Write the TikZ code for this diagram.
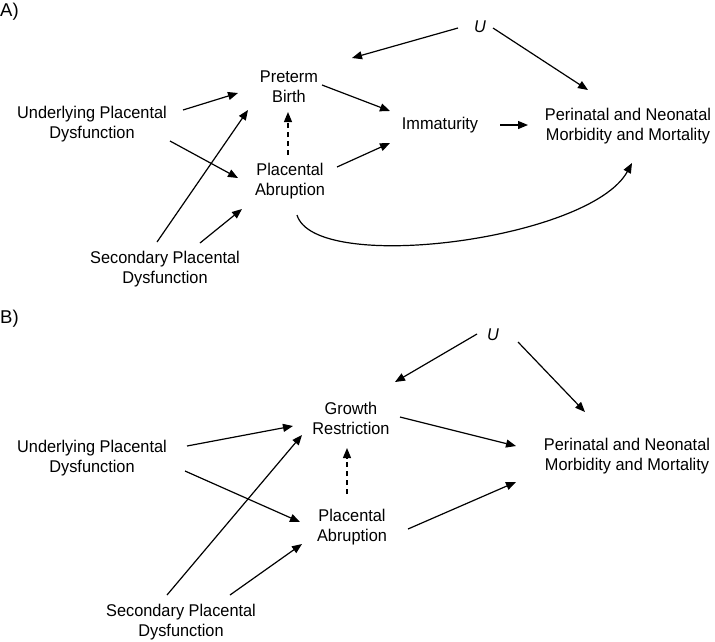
\documentclass[tikz,border=0pt]{standalone}
\usepackage{fontspec}
\setmainfont{Liberation Sans}
\newfontfamily\narrowsans[FakeStretch=0.96]{Liberation Sans}
\usetikzlibrary{arrows.meta,calc}
\begin{document}
\begin{tikzpicture}[x=1pt,y=-1pt,
  lbl/.style={align=center,inner sep=0pt,font=\narrowsans\fontsize{17}{20}\selectfont},
  panel/.style={anchor=base west,inner sep=0pt,font=\fontsize{18.5}{20}\selectfont},
  edge/.style={line width=1.2pt,-{Triangle[length=10pt,width=8pt]}},
  dashedge/.style={edge,dash pattern=on 5pt off 4pt}]
\useasboundingbox (0,0) rectangle (715,641);
% Panel A
\node[panel] (labA) at (0,16.5) {A)};
\node[lbl] (upA) at (92,124) {Underlying Placental\\Dysfunction};
\node[lbl] (ptb) at (289,87) {Preterm\\Birth};
\node[lbl] (paA) at (290,181) {Placental\\Abruption};
\node[lbl] (spA) at (165,269) {Secondary Placental\\Dysfunction};
\node[lbl] (uA) at (480,27) {\textit{U}};
\node[lbl] (imm) at (440,125) {Immaturity};
\node[lbl] (pnA) at (628,126) {Perinatal and Neonatal\\Morbidity and Mortality};
\draw[edge] ($(upA)+(91,-14)$) -- ($(ptb)+(-51,6)$);
\draw[edge] ($(upA)+(78,17)$) -- ($(paA)+(-52,-3)$);
\draw[edge] ($(spA)+(-8,-27)$) -- ($(ptb)+(-41,23)$);
\draw[edge] ($(spA)+(35,-26)$) -- ($(paA)+(-48,28)$);
\draw[dashedge] ($(paA)+(-2,-26)$) -- ($(ptb)+(-1,25)$);
\draw[edge] ($(uA)+(-22,1)$) -- ($(ptb)+(63,-29)$);
\draw[edge] ($(uA)+(13,1)$) -- ($(pnA)+(-40,-36)$);
\draw[edge] ($(ptb)+(33,-2)$) -- ($(imm)+(-50,-14)$);
\draw[edge] ($(paA)+(47,-14)$) -- ($(imm)+(-50,18)$);
\draw[edge] ($(imm)+(60,0)$) -- ($(pnA)+(-100,-1)$);
\draw[edge] ($(paA)+(7,34)$) .. controls ($(paA)+(25,94)$) and ($(pnA)+(-38,114)$) .. ($(pnA)+(4,37)$);
% Panel B
\node[panel] (labB) at (0,323) {B)};
\node[lbl] (upB) at (92,458) {Underlying Placental\\Dysfunction};
\node[lbl] (gr) at (351,418) {Growth\\Restriction};
\node[lbl] (paB) at (352,527) {Placental\\Abruption};
\node[lbl] (spB) at (181,622) {Secondary Placental\\Dysfunction};
\node[lbl] (uB) at (493,335) {\textit{U}};
\node[lbl] (pnB) at (627,456) {Perinatal and Neonatal\\Morbidity and Mortality};
\draw[edge] ($(upB)+(95,-12)$) -- ($(gr)+(-58,8)$);
\draw[edge] ($(upB)+(93,13)$) -- ($(paB)+(-52,-5)$);
\draw[edge] ($(spB)+(-14,-27)$) -- ($(gr)+(-49,17)$);
\draw[edge] ($(spB)+(49,-27)$) -- ($(paB)+(-50,17)$);
\draw[dashedge] ($(paB)+(-5,-33)$) -- ($(gr)+(-4,30)$);
\draw[edge] ($(uB)+(-16,-1)$) -- ($(gr)+(44,-36)$);
\draw[edge] ($(uB)+(25,7)$) -- ($(pnB)+(-42,-44)$);
\draw[edge] ($(gr)+(49,-1)$) -- ($(pnB)+(-111,-10)$);
\draw[edge] ($(paB)+(56,2)$) -- ($(pnB)+(-111,26)$);
\end{tikzpicture}
\end{document}
